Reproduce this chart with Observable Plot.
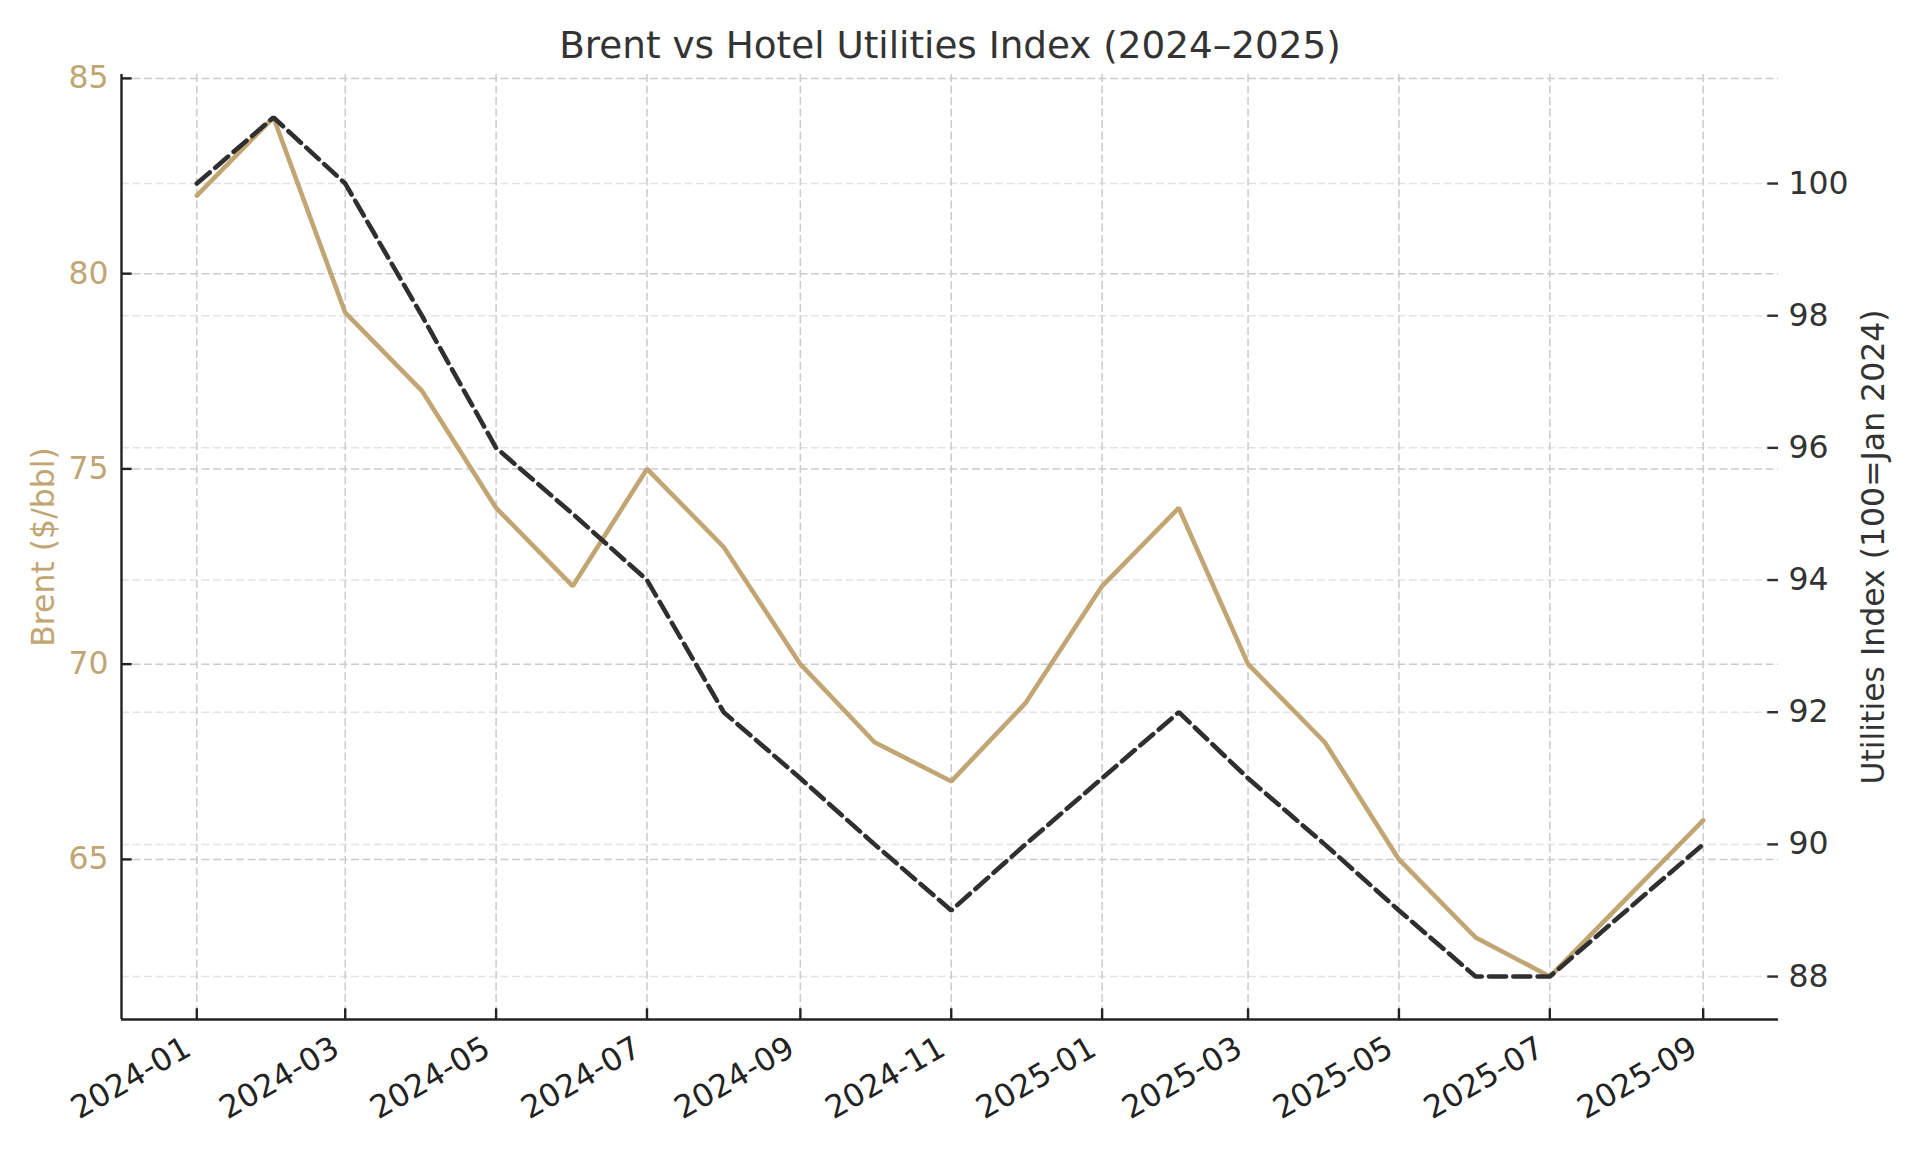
<!DOCTYPE html>
<html>
<head>
<meta charset="utf-8">
<script src="https://cdn.jsdelivr.net/npm/d3@7"></script>
<script src="https://cdn.jsdelivr.net/npm/@observablehq/plot@0.6"></script>
<style>
  html, body { margin: 0; padding: 0; background: #ffffff; }
  #chart svg { display: block; }
</style>
</head>
<body>
<div id="chart"></div>
<script>
// ---- data ----
const months = ["2024-01","2024-02","2024-03","2024-04","2024-05","2024-06","2024-07","2024-08","2024-09","2024-10","2024-11","2024-12",
                "2025-01","2025-02","2025-03","2025-04","2025-05","2025-06","2025-07","2025-08","2025-09"];
const brent = [82,84,79,77,74,72,75,73,70,68,67,69,72,74,70,68,65,63,62,64,66];
const utilities = [100,101,100,98,96,95,94,92,91,90,89,90,91,92,91,90,89,88,88,89,90];
const xTickLabels = ["2024-01","2024-03","2024-05","2024-07","2024-09","2024-11","2025-01","2025-03","2025-05","2025-07","2025-09"];
const brentTicks = [65,70,75,80,85];
const utilTicks = [88,90,92,94,96,98,100];
const title = "Brent vs Hotel Utilities Index (2024\u20132025)";
const brentLabel = "Brent ($/bbl)";
const utilLabel = "Utilities Index (100=Jan 2024)";

// ---- style ----
const TAN = "#c1a673";
const DARK = "#2f2f2f";
const FONT = "DejaVu Sans, sans-serif";
const FS = 31.5;
const W = 1920, H = 1152;
const mL = 121, mR = 142, mT = 74, mB = 133;
const frameW = W - mL - mR, frameH = H - mT - mB;

const parse = d3.utcParse("%Y-%m");
const dates = months.map(parse);
const xTicks = xTickLabels.map(parse);

// matplotlib-like 5% margins
function padExtent(vals, f = 0.05) {
  const [a, b] = d3.extent(vals);
  const p = (b - a) * f;
  return [a - p, b + p];
}
const [t0, t1] = padExtent(dates.map(d => +d));
const xDomain = [new Date(t0), new Date(t1)];
const yL = padExtent(brent);
const yR = padExtent(utilities);
// map right-axis values into left-axis units (twin axis)
const toLeft = u => yL[0] + (u - yR[0]) * (yL[1] - yL[0]) / (yR[1] - yR[0]);

const brentData = dates.map((d, i) => ({date: d, value: brent[i]}));
const utilData = dates.map((d, i) => ({date: d, value: utilities[i]}));

const chart = Plot.plot({
  width: W, height: H,
  marginLeft: mL, marginRight: mR, marginTop: mT, marginBottom: mB,
  style: {fontFamily: FONT, background: "#ffffff"},
  x: {type: "utc", domain: xDomain, axis: null},
  y: {domain: yL, axis: null},
  marks: [
    // grids
    Plot.ruleY(utilTicks, {y: d => toLeft(d), stroke: "#e3e3e3", strokeWidth: 1.5, strokeDasharray: "8,3.5"}),
    Plot.ruleY(brentTicks, {y: d => d, stroke: "#cbcbcb", strokeWidth: 1.5, strokeDasharray: "8,3.5"}),
    Plot.ruleX(xTicks, {x: d => d, stroke: "#cbcbcb", strokeWidth: 1.5, strokeDasharray: "8,3.5"}),
    // series
    Plot.line(brentData, {x: "date", y: "value", stroke: TAN, strokeWidth: 4.6, strokeLinejoin: "miter"}),
    Plot.line(utilData, {x: "date", y: d => toLeft(d.value), stroke: DARK, strokeWidth: 4.6, strokeDasharray: "17,7.3", strokeLinejoin: "miter"}),
    // spines
    Plot.ruleX([xDomain[0]], {stroke: "#222", strokeWidth: 2.4}),
    Plot.ruleY([yL[0]], {stroke: "#222", strokeWidth: 2.4}),
    // inward ticks
    Plot.tickY(brentTicks, {y: d => d, stroke: "#222", strokeWidth: 2.4, insetRight: frameW - 10.7}),
    Plot.tickY(utilTicks, {y: d => toLeft(d), stroke: DARK, strokeWidth: 2.4, insetLeft: frameW - 10.7}),
    Plot.tickX(xTicks, {x: d => d, stroke: "#222", strokeWidth: 2.4, insetTop: frameH - 10.7}),
    // tick labels
    Plot.text(brentTicks, {y: d => d, frameAnchor: "left", text: d => String(d), textAnchor: "end", lineAnchor: "middle", dx: -13, fill: TAN, fontSize: FS}),
    Plot.text(utilTicks, {y: d => toLeft(d), frameAnchor: "right", text: d => String(d), textAnchor: "start", lineAnchor: "middle", dx: 10, fill: "#333", fontSize: FS}),
    Plot.text(xTicks, {x: d => d, frameAnchor: "bottom", text: d => d3.utcFormat("%Y-%m")(d), rotate: -30, textAnchor: "end", lineAnchor: "top", dx: -15, dy: 15, fill: "#222", fontSize: FS}),
    // axis labels
    Plot.text([brentLabel], {frameAnchor: "left", text: d => d, rotate: -90, textAnchor: "middle", lineAnchor: "middle", dx: -78, fill: TAN, fontSize: FS}),
    Plot.text([utilLabel], {frameAnchor: "right", text: d => d, rotate: -90, textAnchor: "middle", lineAnchor: "middle", dx: 95, fill: "#333", fontSize: FS}),
    // title
    Plot.text([title], {frameAnchor: "top", text: d => d, textAnchor: "middle", lineAnchor: "middle", dy: -28, fill: "#333", fontSize: 37.3})
  ]
});
document.getElementById("chart").appendChild(chart);
</script>
</body>
</html>
